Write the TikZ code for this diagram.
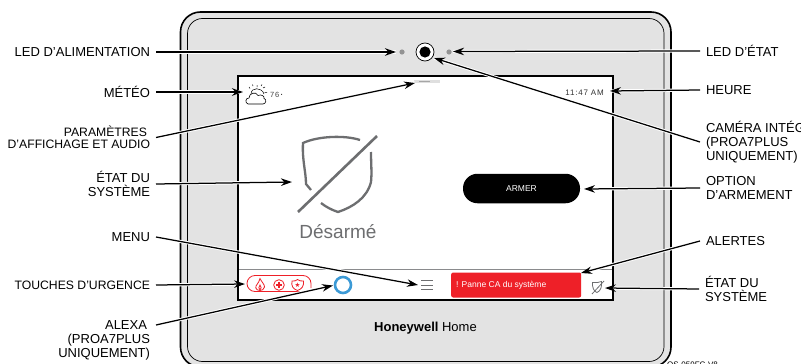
\documentclass[tikz,border=0pt]{standalone}
\usepackage{fontspec}
\setmainfont{Liberation Sans}
\newfontfamily\symfont{DejaVu Sans}
\usetikzlibrary{arrows.meta}
\definecolor{bezel}{HTML}{E3E3E3}
\definecolor{alarm}{HTML}{EE2028}
\definecolor{slate}{HTML}{6D6E70}
\definecolor{alexa}{HTML}{3C9AD6}
\tikzset{
 lblL/.style={anchor=east,align=right,inner sep=0pt,outer xsep=6pt,outer ysep=0pt,font=\fontsize{13}{14}\selectfont,text=black},
 lblLs/.style={lblL,font=\fontsize{12.2}{12}\selectfont},
 lblR/.style={anchor=west,align=left,inner sep=0pt,outer xsep=6pt,outer ysep=0pt,font=\fontsize{13}{14}\selectfont,text=black},
 halo/.style={draw=white,line width=3.2pt},
 lead/.style={draw=black,line width=1.25pt,-{Stealth[length=11pt,width=7.5pt]}},
 icon/.style={draw=slate,line width=0.8pt},
 redline/.style={draw=alarm,line width=0.8pt},
}
\newcommand{\leader}[2]{\draw[halo] (#1) -- (#2); \draw[lead] (#1) -- (#2);}
\begin{document}
\begin{tikzpicture}[x=1pt,y=-1pt]
\useasboundingbox (0,0) rectangle (801,364);
\begin{scope}
\clip (0,0) rectangle (801,364);
% device
\draw[fill=bezel,draw=black,line width=1.6pt,rounded corners=20pt] (180.5,12) rectangle (671,367);
\draw[draw=black,line width=0.7pt,rounded corners=15pt] (187.5,18.5) rectangle (664,361.5);
\draw[fill=white,draw=black,line width=1.6pt] (238,76) rectangle (613,300);
\draw[draw=slate!80,line width=0.7pt] (239,269) -- (612,269);
% top of the device
\fill[gray!85] (402,52) circle (2.6pt);
\fill[gray!85] (449,52) circle (2.6pt);
\draw[draw=black,line width=0.7pt,fill=white] (425,52) circle (9pt);
\fill[black] (425,52) circle (5.6pt);
\fill[gray!25] (414,79.5) rectangle (440,83);
\fill[gray!70] (419,80.6) rectangle (430,81.8);
% weather
\draw[draw=black,line width=0.5pt] (251,94) .. controls (251,87) and (262,87) .. (264,94) (257,87)--(257,85) (250,88.5)--(249,87) (263,88)--(265,87) (264.5,92.5)--(267,92.5) (253,86)--(252.5,84.5) (261,86)--(262,84.5);
\draw[draw=black,line width=0.6pt,fill=white] (248,104) .. controls (245,103) and (245,98) .. (249,98) .. controls (249,93) and (256,91) .. (258,95.5) .. controls (261,94) and (265,96) .. (264,98.5) .. controls (267,99) and (266,104) .. (263,104) -- cycle;
\node[inner sep=0pt,anchor=west,font=\fontsize{7.5}{8}\selectfont\addfontfeature{LetterSpace=10},text=black!75] (temp) at (270,95) {76\,\raisebox{2pt}{\textbf{.}}};
\node[inner sep=0pt,anchor=east,font=\fontsize{8}{9}\selectfont\addfontfeature{LetterSpace=10},text=black!80] (clock) at (604,93) {11:47 AM};
% shield
\draw[draw=slate,line width=2.3pt] (360,140) .. controls (345,135) and (318,136) .. (303,143) .. controls (302,160) and (306,172) .. (306,184) -- (311,190);
\draw[draw=slate,line width=2.3pt] (321,203) .. controls (326,207) and (332,210) .. (338,212) .. controls (353,207) and (367,198) .. (371,182) .. controls (372,172) and (371,165) .. (371,152);
\draw[draw=slate,line width=2.6pt] (377,136) -- (298,212);
\node[inner sep=0pt,font=\fontsize{19}{21}\selectfont,text=slate] (state) at (338,232) {Désarmé};
% arm button
\node[fill=black,rounded corners=14.5pt,minimum width=117pt,minimum height=29.5pt,inner sep=0pt,text=white,font=\fontsize{8.5}{9}\selectfont] (arm) at (521.5,188.5) {ARMER};
% emergency
\draw[redline,rounded corners=8pt] (311,288) -- (311,275.5) -- (247,275.5) -- (247,291.5) -- (305,291.5);
\draw[redline] (260,290.5) .. controls (255,290.5) and (255,286) .. (257,284.5) .. controls (258,283) and (259.5,281) .. (260,278.5) .. controls (261,281) and (265,285) .. (264.5,287) .. controls (264,289.5) and (262,290.5) .. (260,290.5) -- cycle;
\draw[redline] (260,290) .. controls (258,289) and (259,286.5) .. (260,285) .. controls (261,286.5) and (262,289) .. (260,290);
\draw[redline] (279,285) circle (5.3pt);
\draw[draw=alarm,line width=1.4pt] (276.3,285) -- (281.7,285) (279,282.3) -- (279,287.7);
\draw[redline] (292,281) .. controls (295,281.5) and (296,280.5) .. (297.5,279.5) .. controls (299,280.5) and (301,281.5) .. (303.5,281) .. controls (304,286) and (302,289) .. (297.5,290.5) .. controls (293,289) and (291,286) .. (292,281) -- cycle;
\node[inner sep=0pt,text=alarm,font=\symfont\fontsize{6.5}{7}\selectfont] (star) at (297.5,285) {★};
% alexa
\draw[draw=alexa,line width=2.6pt] (343,285) circle (8pt);
% menu
\draw[draw=slate,line width=0.8pt] (421,280.5) -- (433,280.5) (421,285) -- (433,285) (421,289.5) -- (433,289.5);
% alert
\node[fill=alarm,rounded corners=2pt,minimum width=130pt,minimum height=25pt,inner sep=0pt,anchor=west] (alert) at (451,285) {};
\node[inner sep=0pt,anchor=west,text=white,font=\fontsize{8.5}{9}\selectfont] (alerttxt) at (456,285) {! Panne CA du système};
% small shield
\draw[icon] (592.5,282.5) .. controls (596,283) and (599,282.5) .. (601.5,281.5) .. controls (602,286) and (601,291) .. (597,292.5) .. controls (594,292) and (592,287) .. (592.5,282.5) -- cycle;
\draw[icon] (604,281) -- (592,294);
% brand
\node[inner sep=0pt,anchor=west,font=\fontsize{13}{14}\selectfont] (brand) at (374,328) {\textbf{Honeywell} Home};
\node[inner sep=0pt,anchor=west,font=\fontsize{8}{9}\selectfont] (ref) at (667,364.5) {OS-059FC-V8};
% targets
\coordinate (tLedP) at (396,52);
\coordinate (tMeteo) at (243,92);
\coordinate (tParam) at (415,83);
\coordinate (tEtat) at (292,182);
\coordinate (tMenu) at (418,285);
\coordinate (tSos) at (245,284);
\coordinate (tAlexa) at (333,285.5);
\coordinate (tLedE) at (453,51.5);
\coordinate (tHeure) at (610,91);
\coordinate (tCam) at (434,58);
\coordinate (tArm) at (584,189);
\coordinate (tAlert) at (581,273);
\coordinate (tEtatB) at (605,288);
% labels
\node[lblL] (a) at (156,52) {LED D'ALIMENTATION};
\node[lblL] (b) at (156,92) {MÉTÉO};
\node[lblLs] (c) at (156,137.5) {PARAMÈTRES\hspace*{3pt}\\D'AFFICHAGE ET AUDIO};
\node[lblL] (d) at (156,184) {ÉTAT DU\\SYSTÈME};
\node[lblL] (e) at (156,237) {MENU};
\node[lblLs] (f) at (156,285) {TOUCHES D'URGENCE};
\node[lblL] (g) at (156,340) {ALEXA\hspace*{3pt}\\(PROA7PLUS\hspace*{3pt}\\UNIQUEMENT)};
\node[lblR] (h) at (700,51) {LED D'ÉTAT};
\node[lblR] (i) at (700,90) {HEURE};
\node[lblR] (j) at (700,142) {CAMÉRA INTÉGRÉE\\(PROA7PLUS\\UNIQUEMENT)};
\node[lblR] (k) at (700,188) {OPTION\\D'ARMEMENT};
\node[lblR] (l) at (700,241) {ALERTES};
\node[lblR] (m) at (699,289) {ÉTAT DU\\SYSTÈME};
\coordinate (gs) at (156,325);
% connectors
\leader{a.east}{tLedP}
\leader{b.east}{tMeteo}
\leader{c.east}{tParam}
\leader{d.east}{tEtat}
\leader{e.east}{tMenu}
\leader{f.east}{tSos}
\leader{gs}{tAlexa}
\leader{h.west}{tLedE}
\leader{i.west}{tHeure}
\leader{j.west}{tCam}
\leader{k.west}{tArm}
\leader{l.west}{tAlert}
\leader{m.west}{tEtatB}
\end{scope}
\end{tikzpicture}
\end{document}
